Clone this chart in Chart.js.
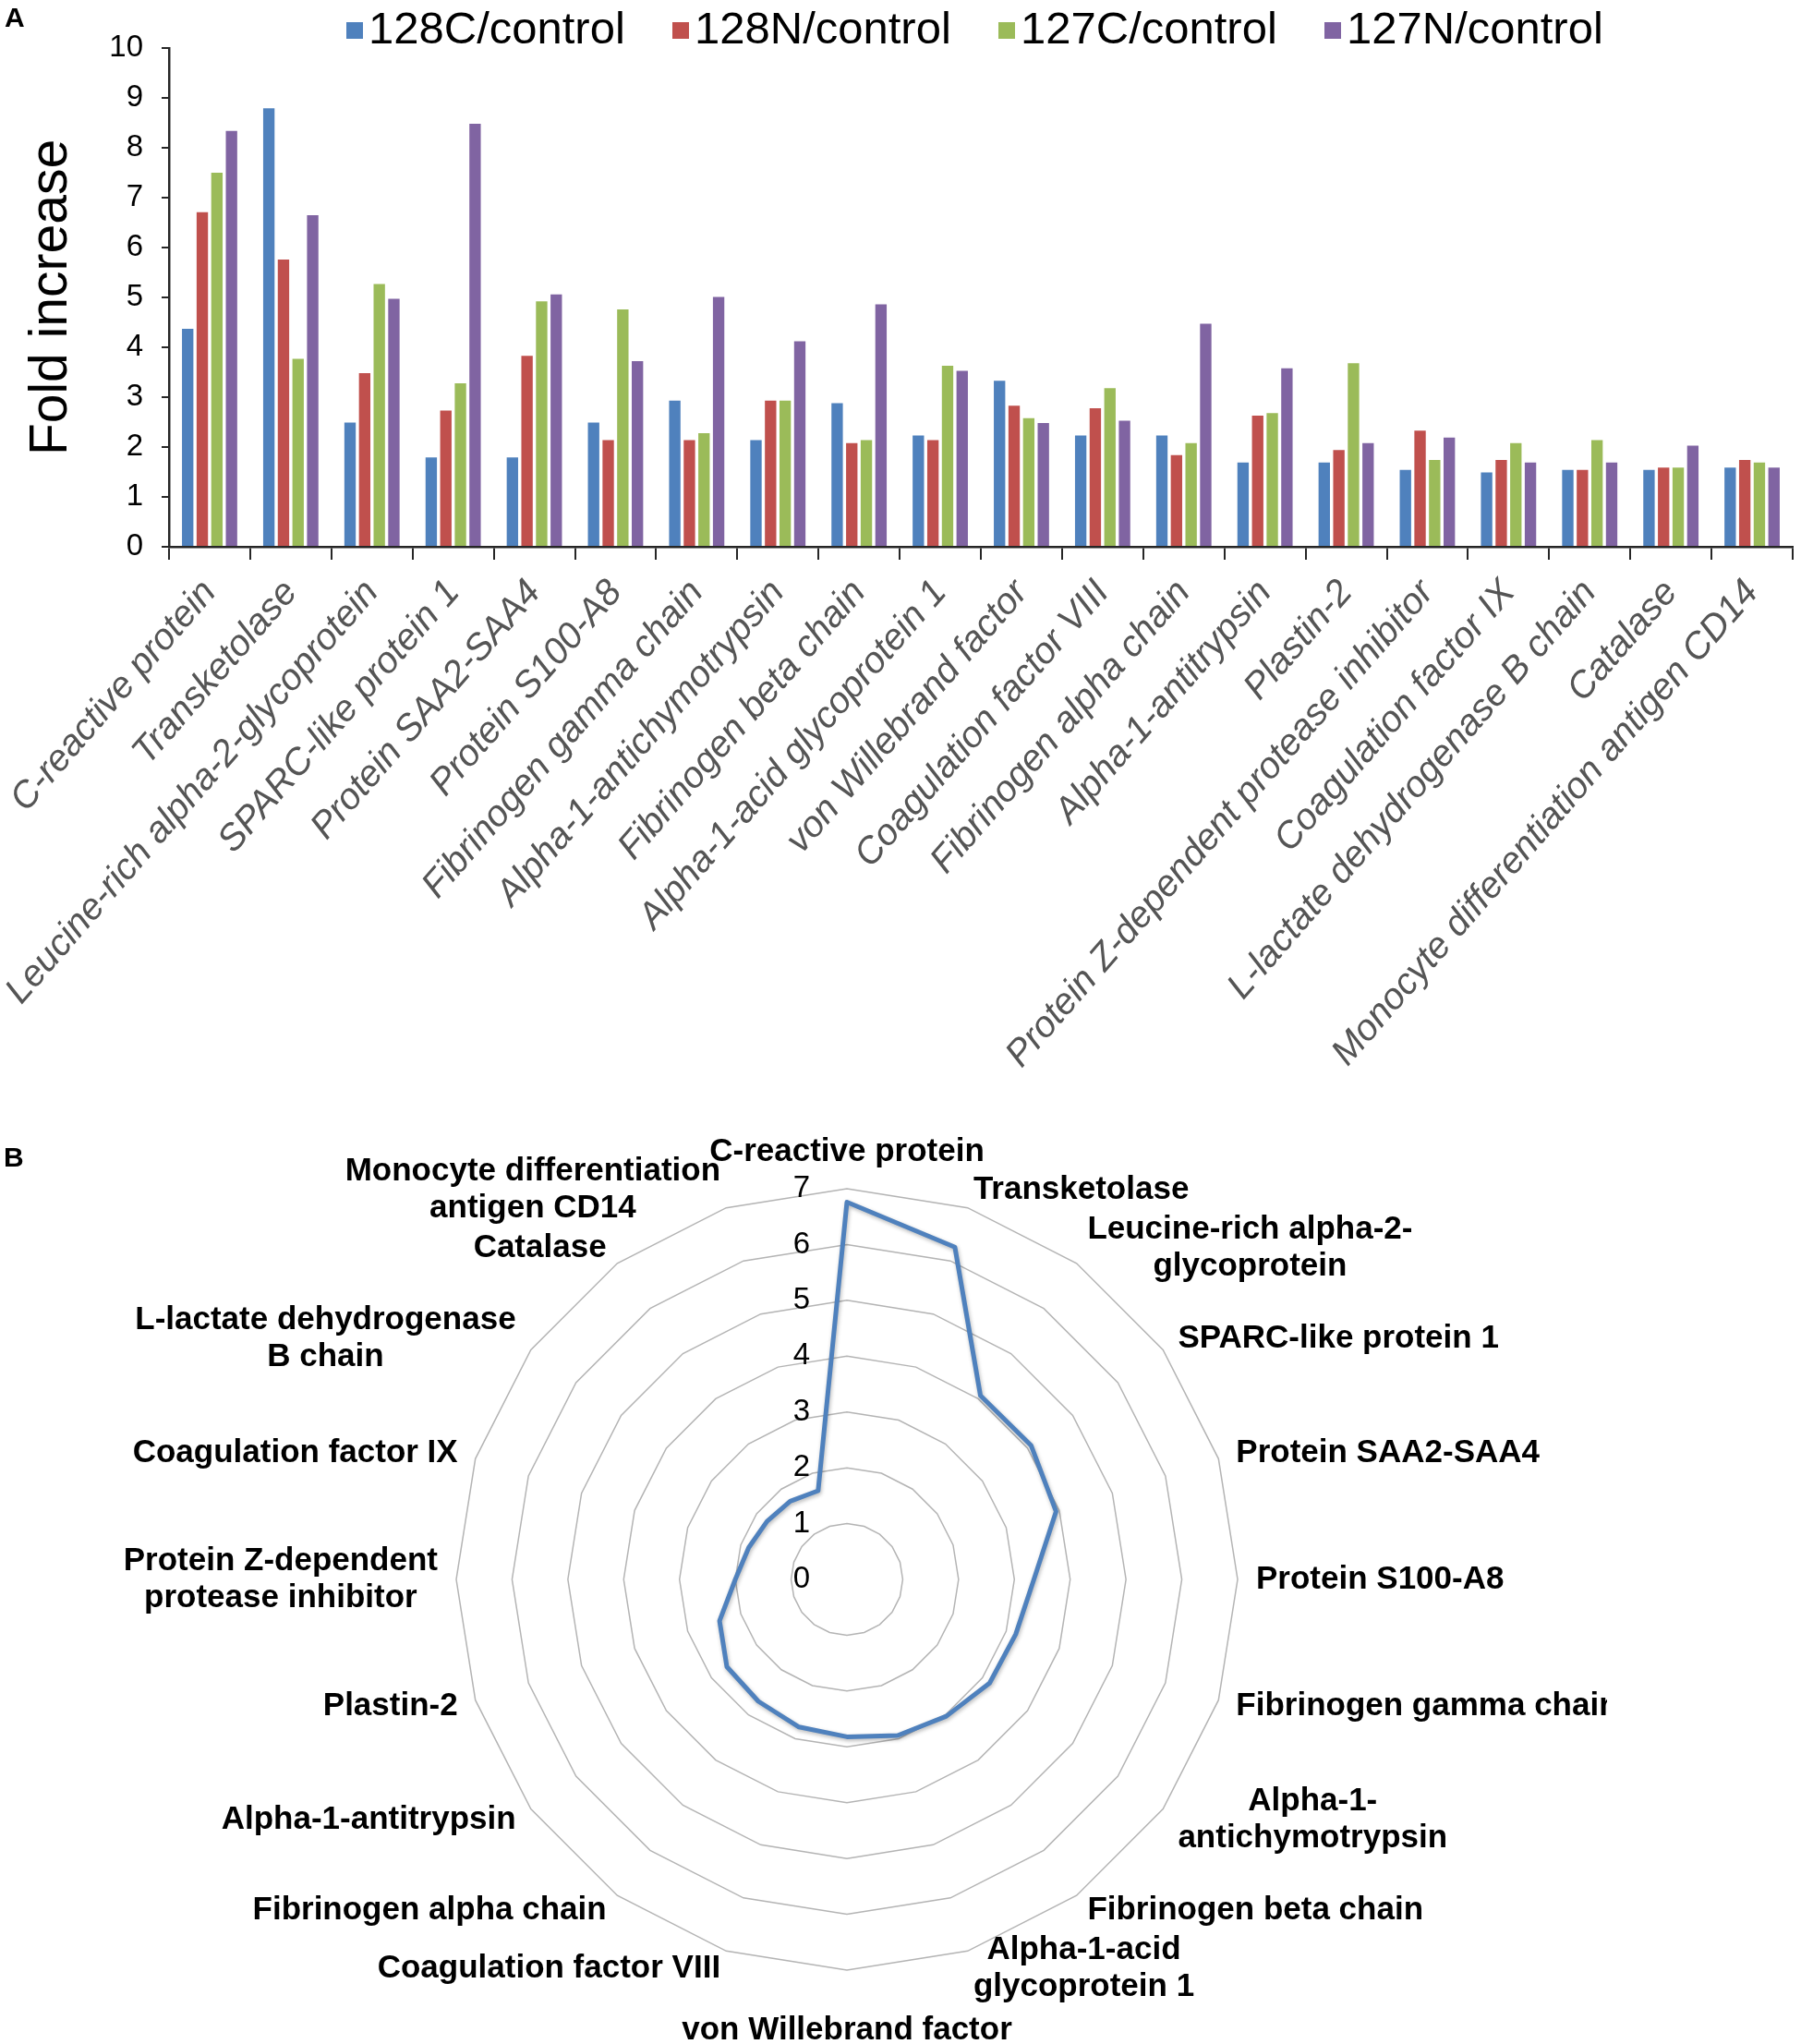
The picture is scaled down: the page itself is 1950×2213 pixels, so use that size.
<!DOCTYPE html>
<html>
<head>
<meta charset="utf-8">
<script src="https://cdn.jsdelivr.net/npm/chart.js@4.4.1/dist/chart.umd.min.js"></script>
<style>
html,body{margin:0;padding:0;background:#fff;}
#page{position:relative;width:1950px;height:2213px;overflow:hidden;background:#fff;font-family:"Liberation Sans",Arial,sans-serif;}
.panel{position:absolute;font-weight:bold;font-size:30px;line-height:30px;color:#000;}
#legend{position:absolute;left:375px;top:0;display:flex;}
.item{width:353px;height:60px;position:relative;}
.sw{position:absolute;left:0;top:24px;width:18px;height:18px;}
.lt{position:absolute;left:24px;top:6px;font-size:49px;line-height:49px;color:#000;white-space:nowrap;}
#cA{position:absolute;left:0;top:0;}
#wrapB{position:absolute;left:0;top:1160px;width:1740px;height:1053px;overflow:hidden;}
</style>
</head>
<body>
<div id="page">
  <canvas id="cA" width="1950" height="1160"></canvas>
  <div id="legend"></div>
  <div class="panel" style="left:5px;top:4px;">A</div>
  <div id="wrapB"><canvas id="cB" width="1740" height="1053"></canvas></div>
  <div class="panel" style="left:4px;top:1238px;">B</div>
</div>
<script>
// ---------- Panel A data ----------
const categories = [
  "C-reactive protein", "Transketolase", "Leucine-rich alpha-2-glycoprotein", "SPARC-like protein 1",
  "Protein SAA2-SAA4", "Protein S100-A8", "Fibrinogen gamma chain", "Alpha-1-antichymotrypsin",
  "Fibrinogen beta chain", "Alpha-1-acid glycoprotein 1", "von Willebrand factor", "Coagulation factor VIII",
  "Fibrinogen alpha chain", "Alpha-1-antitrypsin", "Plastin-2", "Protein Z-dependent protease inhibitor",
  "Coagulation factor IX", "L-lactate dehydrogenase B chain", "Catalase", "Monocyte differentiation antigen CD14"
];
const seriesNames = ["128C/control", "128N/control", "127C/control", "127N/control"];
const seriesColors = ["#4F81BD", "#C0504D", "#9BBB59", "#8064A2"];
const series128C = [4.37, 8.79, 2.49, 1.79, 1.79, 2.49, 2.93, 2.14, 2.88, 2.23, 3.33, 2.23, 2.23, 1.69, 1.69, 1.54, 1.49, 1.54, 1.54, 1.59];
const series128N = [6.71, 5.76, 3.48, 2.73, 3.83, 2.14, 2.14, 2.93, 2.08, 2.14, 2.83, 2.78, 1.84, 2.63, 1.94, 2.33, 1.74, 1.54, 1.59, 1.74];
const series127C = [7.50, 3.77, 5.27, 3.28, 4.92, 4.76, 2.28, 2.93, 2.14, 3.63, 2.58, 3.18, 2.08, 2.68, 3.68, 1.74, 2.08, 2.14, 1.59, 1.69];
const series127N = [8.34, 6.65, 4.97, 8.48, 5.06, 3.72, 5.01, 4.12, 4.86, 3.53, 2.48, 2.53, 4.47, 3.58, 2.08, 2.19, 1.69, 1.69, 2.03, 1.59];
const yAxisMin = 0, yAxisMax = 10, yAxisStep = 1;
const yAxisTitle = "Fold increase";

// ---------- Panel B data ----------
const radarLabels = [
  "C-reactive protein", "Transketolase", ["Leucine-rich alpha-2-", "glycoprotein"], "SPARC-like protein 1",
  "Protein SAA2-SAA4", "Protein S100-A8", "Fibrinogen gamma chain", ["Alpha-1-", "antichymotrypsin"],
  "Fibrinogen beta chain", ["Alpha-1-acid", "glycoprotein 1"], "von Willebrand factor", "Coagulation factor VIII",
  "Fibrinogen alpha chain", "Alpha-1-antitrypsin", "Plastin-2", ["Protein Z-dependent", "protease inhibitor"],
  "Coagulation factor IX", ["L-lactate dehydrogenase", "B chain"], "Catalase", ["Monocyte differentiation", "antigen CD14"]
];
const radarValues = [6.76, 6.26, 4.07, 4.08, 3.94, 3.35, 3.18, 3.16, 3.03, 2.94, 2.82, 2.78, 2.70, 2.66, 2.40, 2.00, 1.85, 1.77, 1.73, 1.67];
const radarMin = 0, radarMax = 7, radarStep = 1;

const FONT = '"Liberation Sans", Arial, sans-serif';
Chart.defaults.font.family = FONT;

// ---------- HTML legend ----------
const legendEl = document.getElementById('legend');
seriesNames.forEach((name, i) => {
  const it = document.createElement('div'); it.className = 'item';
  const sw = document.createElement('div'); sw.className = 'sw'; sw.style.background = seriesColors[i];
  const lt = document.createElement('div'); lt.className = 'lt'; lt.textContent = name;
  it.appendChild(sw); it.appendChild(lt); legendEl.appendChild(it);
});

// ---------- Panel A: grouped bar chart ----------
const seriesData = [series128C, series128N, series127C, series127N];
const canvasAHeight = 1160;
const plotBottom = 592, plotLeft = 183;
new Chart(document.getElementById('cA'), {
  type: 'bar',
  data: {
    labels: categories,
    datasets: seriesNames.map((n, i) => ({
      label: n, data: seriesData[i], backgroundColor: seriesColors[i],
      borderWidth: 0, categoryPercentage: 0.72, barPercentage: 0.78
    }))
  },
  options: {
    responsive: false, animation: false, devicePixelRatio: 1,
    layout: { padding: { left: 0, right: 9, top: 52, bottom: 0 } },
    plugins: { legend: { display: false }, tooltip: { enabled: false } },
    scales: {
      x: {
        grid: { display: true, drawOnChartArea: false, drawTicks: true, tickLength: 14, color: '#262626', lineWidth: 2, offset: true },
        border: { display: true, color: '#262626', width: 2.5 },
        ticks: { autoSkip: false, minRotation: 49, maxRotation: 49, padding: 13, color: '#555555',
                 font: { family: FONT, size: 40, style: 'italic' } },
        afterFit: (s) => { s.height = canvasAHeight - plotBottom; s.paddingLeft = 0; s.paddingRight = 0; }
      },
      y: {
        min: yAxisMin, max: yAxisMax,
        ticks: { stepSize: yAxisStep, padding: 20, color: '#000', font: { family: FONT, size: 33 } },
        grid: { display: true, drawOnChartArea: false, drawTicks: true, tickLength: 8, color: '#262626', lineWidth: 2 },
        border: { display: true, color: '#262626', width: 2.5 },
        title: { display: true, text: yAxisTitle, color: '#000', font: { family: FONT, size: 57 }, padding: { top: 22, bottom: 0 } },
        afterFit: (s) => { s.width = plotLeft; }
      }
    }
  }
});

// ---------- Panel B: radar chart ----------
const radarText = {
  id: 'radarText',
  beforeDatasetsDraw(chart) {
    const ctx = chart.ctx; ctx.save();
    ctx.shadowColor = 'rgba(0,0,0,0.28)'; ctx.shadowBlur = 4; ctx.shadowOffsetX = 1; ctx.shadowOffsetY = 2;
  },
  afterDatasetsDraw(chart) { chart.ctx.restore(); },
  afterDraw(chart) {
    const s = chart.scales.r, ctx = chart.ctx;
    ctx.save();
    ctx.fillStyle = '#000';
    ctx.textAlign = 'center'; ctx.textBaseline = 'middle';
    ctx.font = '33px ' + FONT;
    s.ticks.forEach(t => {
      const p = s.getPointPositionForValue(0, t.value);
      ctx.fillText(String(t.value), p.x - 49, p.y);
    });
    ctx.font = 'bold 35px ' + FONT;
    const lineH = 40, n = chart.data.labels.length;
    chart.data.labels.forEach((lab, i) => {
      const lines = Array.isArray(lab) ? lab : [lab];
      const w = Math.max(...lines.map(l => ctx.measureText(l).width));
      const h = lines.length * lineH;
      const p = s.getPointPosition(i, s.drawingArea + 20);
      const deg = Math.round(i * 360 / n);
      let cx, top;
      if (deg === 0) { cx = p.x; top = p.y - h; }
      else if (deg === 180) { cx = p.x; top = p.y + 25; }
      else { cx = deg < 180 ? p.x + w / 2 : p.x - w / 2; top = p.y - h / 2; }
      lines.forEach((l, k) => ctx.fillText(l, cx, top + lineH * k + lineH / 2));
    });
    ctx.restore();
  }
};
new Chart(document.getElementById('cB'), {
  type: 'radar',
  data: {
    labels: radarLabels,
    datasets: [{ data: radarValues, borderColor: '#4F81BD', borderWidth: 5, pointRadius: 0, fill: false, tension: 0, borderJoinStyle: 'round' }]
  },
  options: {
    responsive: false, animation: false, devicePixelRatio: 1,
    layout: { padding: { left: 494, right: 400, top: 127, bottom: 80 } },
    plugins: { legend: { display: false }, tooltip: { enabled: false } },
    scales: {
      r: {
        min: radarMin, max: radarMax,
        ticks: { stepSize: radarStep, display: false },
        grid: { color: '#B4B4B4', lineWidth: 1.5 },
        angleLines: { display: false },
        pointLabels: { display: false }
      }
    }
  },
  plugins: [radarText]
});
</script>
</body>
</html>
